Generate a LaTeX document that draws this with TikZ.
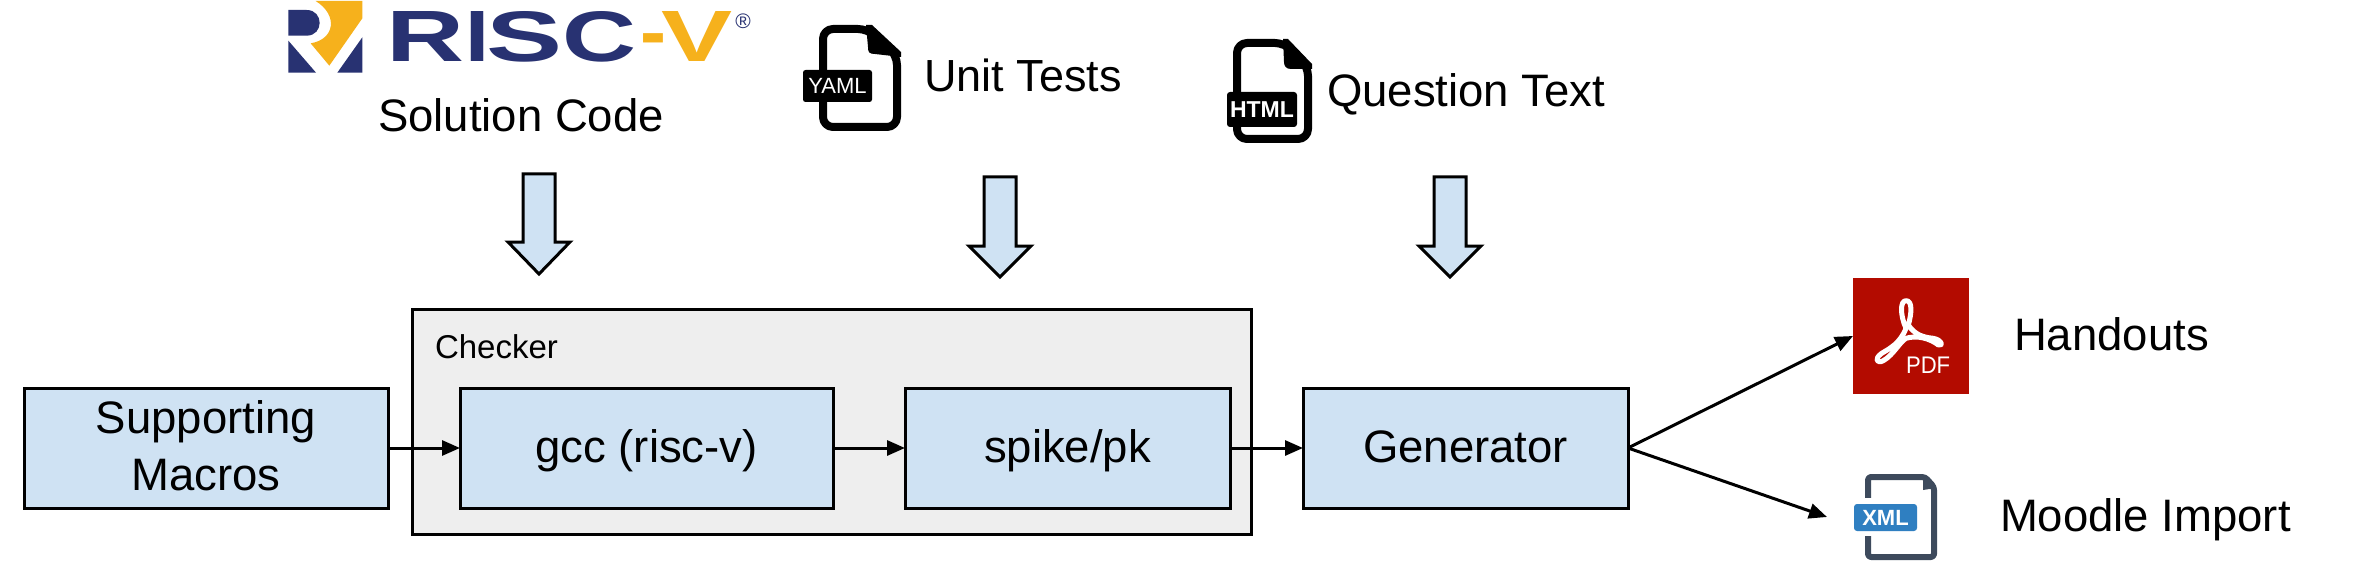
\documentclass[tikz,border=0pt]{standalone}
\usepackage{fontspec}
\usepackage{graphicx}
\setmainfont{Liberation Sans}
\usetikzlibrary{arrows.meta}
\definecolor{boxblue}{HTML}{CFE2F3}
\definecolor{checkgray}{HTML}{EEEEEE}
\definecolor{pdfred}{HTML}{B30B00}
\definecolor{xmlblue}{HTML}{2F7FC1}
\definecolor{xmldark}{HTML}{3D4A5C}
\definecolor{rvnavy}{HTML}{283272}
\definecolor{rvgold}{HTML}{F6B11C}
\newcommand{\bigfont}{\fontsize{45.5}{57}\selectfont}
\newcommand{\rvl}[3]{\textcolor{#1}{\resizebox{#2pt}{50pt}{#3}}}
\tikzset{
  every node/.style={inner sep=0pt, outer sep=0pt},
  stagebox/.style={draw=black, fill=boxblue, line width=3pt, font=\bigfont, align=center,
    minimum height=120pt},
  groupbox/.style={draw=black, fill=checkgray, line width=3pt},
  lbl/.style={font=\bigfont, anchor=base west},
  flow/.style={draw=black, line width=3pt, -{Triangle[length=18pt,width=15pt]}, shorten <=0pt},
  blockarrow/.style={draw=black, fill=boxblue, line width=3pt, line join=miter},
  docstroke/.style={draw=black, line width=8pt, line join=round, fill=white},
}
\begin{document}
\begin{tikzpicture}[x=1pt,y=-1pt]
\useasboundingbox[fill=white] (0,0) rectangle (2358,588);

% Checker group
\node[groupbox, anchor=north west, minimum width=839pt, minimum height=225pt] (checker) at (412,309) {};
\node[anchor=base west, font=\fontsize{33}{40}\selectfont] (checkerlbl) at (435,358) {Checker};

% Stages
\node[stagebox, minimum width=364pt, text depth=4pt] (sup) at (206,448) {Supporting\\Macros};
\node[stagebox, minimum width=373pt, text height=34pt, text depth=6pt] (gcc) at (646.5,448) {gcc (risc-v)};
\node[stagebox, minimum width=325pt, text height=34pt, text depth=6pt] (spike) at (1067.5,448) {spike/pk};
\node[stagebox, minimum width=325pt, text height=34pt, text depth=6pt] (gen) at (1465.5,448) {Generator};

% PDF tile
\node[fill=pdfred, minimum width=116pt, minimum height=116pt, anchor=north west] (pdf) at (1853,278) {};
\begin{scope}[shift={(1800,260)}, x=0.3333pt, y=-0.3333pt]
\draw[white, line width=5pt, line join=round]
  (318,122) .. controls (300,122) and (300,165) .. (318,205)
  .. controls (300,250) and (270,265) .. (245,280)
  .. controls (220,298) and (232,312) .. (250,302)
  .. controls (280,285) and (300,245) .. (318,235)
  .. controls (350,225) and (390,235) .. (415,255)
  .. controls (432,258) and (425,240) .. (400,235)
  .. controls (370,232) and (345,225) .. (325,195)
  .. controls (335,160) and (338,122) .. (318,122) -- cycle;
\end{scope}
\node[anchor=base west, text=white, font=\fontsize{24}{26}\selectfont] (pdftext) at (1906,373) {\scalebox{0.92}[1]{PDF}};

% XML icon
\draw[xmldark, line width=6pt, line join=round, rounded corners=3pt]
  (1868,477) -- (1925,477) -- (1934,487) -- (1934,557) -- (1868,557) -- cycle;
\fill[xmldark] (1923,477) -- (1936,488) -- (1923,490) -- cycle;
\fill[white] (1860,498) rectangle (1880,536);
\node[fill=xmlblue, rounded corners=3pt, minimum width=63pt, minimum height=27pt, text=white,
  font=\fontsize{22}{24}\bfseries\selectfont] (xml) at (1885.5,517.5) {XML};

% Output connectors
\coordinate (pdftip) at (1853,336);
\coordinate (xmltip) at (1827,517);
\draw[flow] (sup.east) -- (gcc.west);
\draw[flow] (gcc.east) -- (spike.west);
\draw[flow] (spike.east) -- (gen.west);
\draw[flow] (gen.east) -- (pdftip);
\draw[flow] (gen.east) -- (xmltip);

% Output labels
\node[lbl] (handouts) at (2014,350) {Handouts};
\node[lbl] (moodle) at (2000,531) {Moodle Import};

% Block arrows
\draw[blockarrow] (523,174) -- (555,174) -- (555,242) -- (570,242) -- (539,274) -- (508,242) -- (523,242) -- cycle;
\draw[blockarrow] (984,177) -- (1016,177) -- (1016,246) -- (1031,246) -- (1000,277) -- (969,246) -- (984,246) -- cycle;
\draw[blockarrow] (1434,177) -- (1466,177) -- (1466,246) -- (1481,246) -- (1450,277) -- (1419,246) -- (1434,246) -- cycle;

% RISC-V logo mark
\begin{scope}[shift={(280,0)}, x=0.3333pt, y=-0.3333pt]
\fill[rvnavy] (25,30) -- (80,30) .. controls (132,30) and (132,107) .. (80,107) -- (25,107) -- cycle;
\fill[rvnavy] (25,122) -- (108,218) -- (25,218) -- cycle;
\fill[rvnavy] (247,112) -- (247,218) -- (172,218) -- cycle;
\fill[rvgold] (107,3) -- (247,3) -- (247,55) -- (148,197) -- (92,130) .. controls (165,118) and (175,45) .. (107,3) -- cycle;
\end{scope}
\node[anchor=base west, font=\bfseries] (rvname) at (386,62) {%
  \rvl{rvnavy}{78}{R}\kern1pt\rvl{rvnavy}{24}{I}\kern-3pt\rvl{rvnavy}{76}{S}\kern0pt\rvl{rvnavy}{74}{C}\kern4pt%
  \textcolor{rvgold}{\smash{\raisebox{3pt}{\scalebox{2.6}[2.6]{\fontsize{30}{30}\selectfont -}}}}\kern-5pt\rvl{rvgold}{71}{V}};
\node[text=rvnavy, font=\fontsize{21}{24}\selectfont, anchor=center] (rvreg) at (743,21) {®};
\node[lbl] (solution) at (378,132) {Solution Code};

% YAML icon
\draw[docstroke, rounded corners=10pt] (823,29) -- (868,29) -- (897,55) -- (897,127) -- (823,127) -- cycle;
\fill[black] (866,25) -- (872,25) -- (901,52) -- (901,57) -- (875,54) .. controls (869,54) and (868,52) .. (868,47) -- cycle;
\node[fill=black, rounded corners=2.5pt, minimum width=69pt, minimum height=32pt, text=white,
  font=\fontsize{22}{24}\selectfont] (yaml) at (837.5,86) {YAML};
\node[lbl, font=\fontsize{45}{57}\selectfont] (unit) at (924,92) {Unit Tests};

% HTML icon
\draw[docstroke, rounded corners=10pt] (1237,43) -- (1285,43) -- (1308,66) -- (1308,139) -- (1237,139) -- cycle;
\fill[black] (1283,39) -- (1288,39) -- (1312,64) -- (1312,69) -- (1291,69) .. controls (1286,69) and (1284,66) .. (1284,62) -- cycle;
\node[fill=black, rounded corners=3pt, minimum width=70pt, minimum height=35pt, text=white,
  font=\fontsize{23}{25}\bfseries\selectfont] (html) at (1262,109.5) {HTML};
\node[lbl] (question) at (1327,107) {Question Text};
\end{tikzpicture}
\end{document}
